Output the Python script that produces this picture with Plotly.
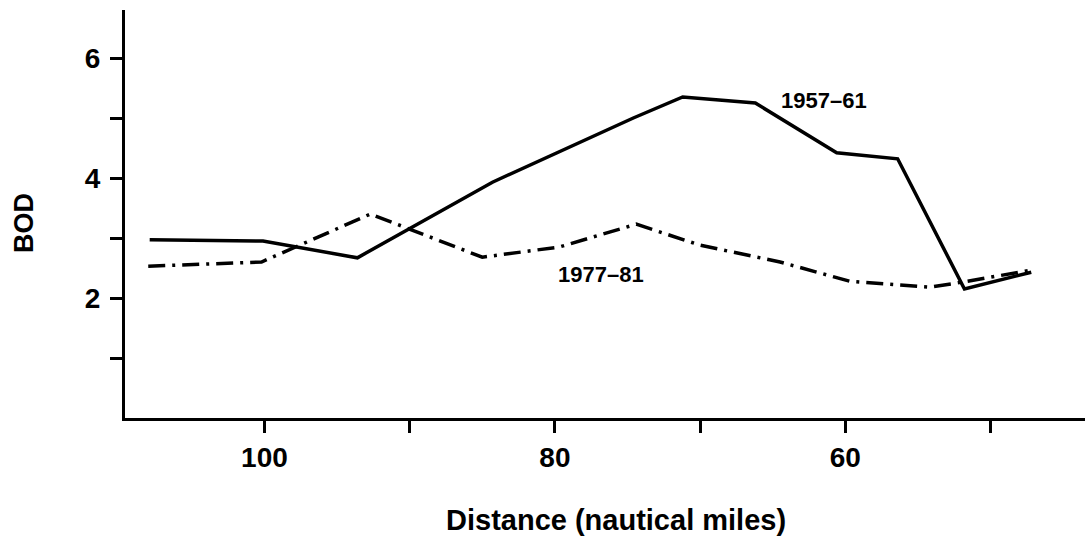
import plotly.graph_objects as go

# 1957-61 (solid)
dist_5761 = [107.9, 100.1, 93.6, 84.3, 74.6, 71.2, 66.2, 60.6, 56.4, 51.8, 47.2]
bod_5761 = [2.97, 2.95, 2.67, 3.93, 5.0, 5.35, 5.25, 4.42, 4.32, 2.15, 2.43]

# 1977-81 (dash-dot)
dist_7781 = [108.0, 100.2, 92.7, 85.0, 79.7, 74.4, 70.0, 64.5, 59.7, 54.2, 51.8, 47.1]
bod_7781 = [2.53, 2.60, 3.40, 2.68, 2.85, 3.23, 2.88, 2.60, 2.28, 2.18, 2.27, 2.47]

x_major = [100, 80, 60]
y_major = [2, 4, 6]

FONT = "Liberation Sans"

fig = go.Figure()
fig.add_trace(go.Scatter(x=dist_5761, y=bod_5761, mode="lines",
                         line=dict(color="black", width=3.5), showlegend=False))
fig.add_trace(go.Scatter(x=dist_7781, y=bod_7781, mode="lines",
                         line=dict(color="black", width=3.5, dash="17px,7px,3px,7px"),
                         showlegend=False))

fig.update_layout(
    width=1085, height=537,
    margin=dict(l=125, r=0, t=10, b=119),
    paper_bgcolor="white", plot_bgcolor="white",
    font=dict(family=FONT, color="black"),
    xaxis=dict(range=[109.6, 43.5], showgrid=False, zeroline=False,
               showline=True, linecolor="black", linewidth=3,
               tickmode="array", tickvals=x_major, ticktext=[str(v) for v in x_major],
               ticks="outside", ticklen=12, tickwidth=3, tickcolor="black",
               tickfont=dict(family=FONT, size=28, weight=700),
               minor=dict(tickmode="array", tickvals=[90, 70, 50], ticks="outside",
                          ticklen=12, tickwidth=3, tickcolor="black", showgrid=False)),
    yaxis=dict(range=[0, 6.8], showgrid=False, zeroline=False,
               showline=True, linecolor="black", linewidth=3,
               tickmode="array", tickvals=y_major, ticktext=[str(v) for v in y_major],
               ticks="outside", ticklen=12, tickwidth=3, tickcolor="black",
               ticklabelstandoff=4,
               tickfont=dict(family=FONT, size=28, weight=700),
               minor=dict(tickmode="array", tickvals=[1, 3, 5], ticks="outside",
                          ticklen=12, tickwidth=3, tickcolor="black", showgrid=False)),
    annotations=[
        dict(text="Distance (nautical miles)", xref="paper", yref="paper",
             x=0.5115, y=0, yshift=-102, xanchor="center", yanchor="middle",
             showarrow=False, font=dict(family=FONT, size=29, weight=700)),
        dict(text="BOD", xref="paper", yref="paper", x=0, xshift=-101,
             y=0.478, xanchor="center", yanchor="middle", textangle=-90,
             showarrow=False, font=dict(family=FONT, size=27, weight=700)),
        dict(text="1957–61", x=61.5, y=5.3, xref="x", yref="y", showarrow=False,
             xanchor="center", yanchor="middle",
             font=dict(family=FONT, size=22, weight=700)),
        dict(text="1977–81", x=76.8, y=2.4, xref="x", yref="y", showarrow=False,
             xanchor="center", yanchor="middle",
             font=dict(family=FONT, size=22, weight=700)),
    ],
)

fig.write_html("out.html")
